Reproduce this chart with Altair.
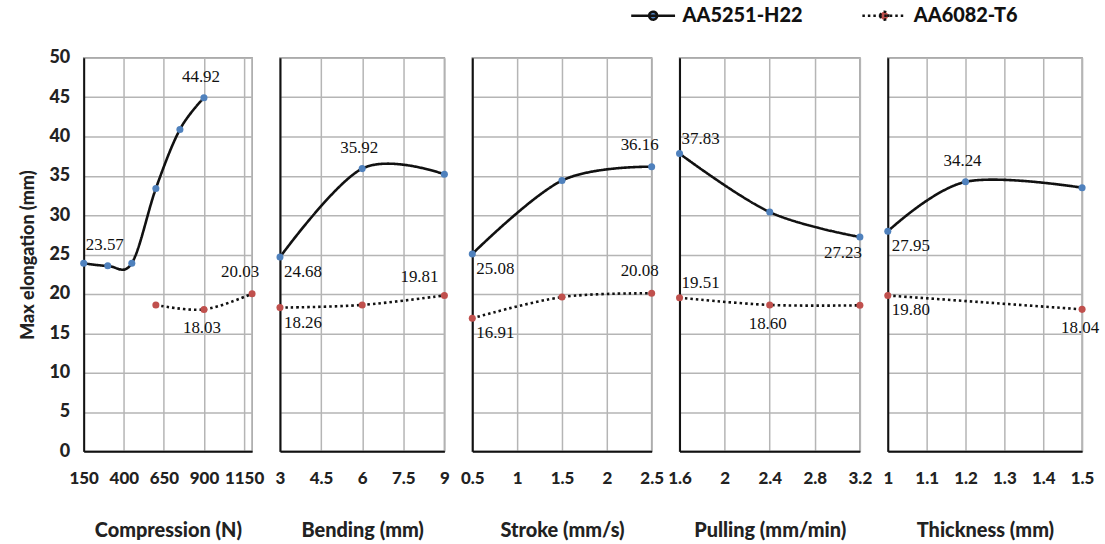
import altair as alt
import pandas as pd

SERIES = ["AA5251-H22", "AA6082-T6"]
POINT_COLORS = ["#4f81bd", "#c0504d"]

# Compression (N)
comp_x_a = [150, 300, 450, 600, 750, 900]
comp_y_a = [23.9, 23.57, 23.9, 33.4, 40.9, 44.92]
comp_x_b = [600, 900, 1200]
comp_y_b = [18.6, 18.03, 20.03]
comp_ticks = [150, 400, 650, 900, 1150]

# Bending (mm)
bend_x = [3, 6, 9]
bend_y_a = [24.68, 35.92, 35.2]
bend_y_b = [18.26, 18.6, 19.81]
bend_ticks = [3, 4.5, 6, 7.5, 9]

# Stroke (mm/s)
stroke_x = [0.5, 1.5, 2.5]
stroke_y_a = [25.08, 34.4, 36.16]
stroke_y_b = [16.91, 19.6, 20.08]
stroke_ticks = [0.5, 1, 1.5, 2, 2.5]

# Pulling (mm/min)
pull_x = [1.6, 2.4, 3.2]
pull_y_a = [37.83, 30.4, 27.23]
pull_y_b = [19.51, 18.60, 18.55]
pull_ticks = [1.6, 2, 2.4, 2.8, 3.2]

# Thickness (mm)
thick_x_a = [1, 1.2, 1.5]
thick_y_a = [27.95, 34.24, 33.5]
thick_x_b = [1, 1.5]
thick_y_b = [19.80, 18.04]
thick_ticks = [1, 1.1, 1.2, 1.3, 1.4, 1.5]

# which points carry a value label, and on which side of the point it sits
comp_labels = [(0, 300, "N"), (0, 900, "N"), (1, 900, "S"), (1, 1200, "NW")]
bend_labels = [(0, 3, "SE"), (0, 6, "N"), (1, 3, "SE"), (1, 9, "NWW")]
stroke_labels = [(0, 0.5, "SE"), (0, 2.5, "NW"), (1, 0.5, "SE"), (1, 2.5, "NW")]
pull_labels = [(0, 1.6, "NE"), (0, 3.2, "SW"), (1, 1.6, "NE"), (1, 2.4, "S")]
thick_labels = [(0, 1, "SE"), (0, 1.2, "N"), (1, 1, "SE"), (1, 1.5, "S")]

PLACEMENT = {
    "N": dict(align="center", dx=-3, dy=-21),
    "S": dict(align="center", dx=-2, dy=19),
    "SE": dict(align="left", dx=4, dy=15),
    "NE": dict(align="left", dx=2, dy=-15),
    "NW": dict(align="center", dx=-12, dy=-22),
    "NWW": dict(align="center", dx=-25, dy=-18),
    "SW": dict(align="center", dx=-17, dy=16),
}

LABEL_FONT = "Lato"
HEAVY = 900
# legend glyph: a horizontal stroke with a marker dot in its middle
SYMBOL = "M-2.2,0H2.2M-0.4,0A0.4,0.4,0,1,1,0.4,0A0.4,0.4,0,1,1,-0.4,0Z"

legend = alt.Legend(
    title=None,
    orient="none",
    legendX=560,
    legendY=-54,
    direction="horizontal",
    symbolType=SYMBOL,
    symbolSize=400,
    symbolStrokeColor="#111111",
    symbolStrokeWidth=2.5,
    labelFont=LABEL_FONT,
    labelFontWeight=HEAVY,
    labelFontSize=20,
    labelColor="#111111",
    columnPadding=54,
    labelOffset=18,
)


def panel(title, xa, ya, xb, yb, labels, ticks, domain, width, first, fmt):
    rows = []
    for x, y in zip(xa, ya):
        rows.append(dict(x=x, y=y, series=SERIES[0], place=""))
    for x, y in zip(xb, yb):
        rows.append(dict(x=x, y=y, series=SERIES[1], place=""))
    df = pd.DataFrame(rows)
    for s, x, p in labels:
        df.loc[(df.series == SERIES[s]) & (df.x == x), "place"] = p

    x_axis = alt.Axis(
        values=ticks,
        format=fmt,
        title=title,
        grid=True,
        gridColor="#b5b5b5",
        gridWidth=1.5,
        domainColor="#111111",
        domainWidth=2,
        tickSize=0,
        labelFont=LABEL_FONT,
        labelFontWeight=HEAVY,
        labelFontSize=17,
        labelColor="#222222",
        labelPadding=19,
        labelOverlap=False,
        labelFlush=False,
        titleFont=LABEL_FONT,
        titleFontWeight=HEAVY,
        titleFontSize=20,
        titleColor="#222222",
        titlePadding=34,
    )
    if first:
        y_axis = alt.Axis(
            values=list(range(0, 51, 5)),
            title="Max elongation (mm)",
            grid=True,
            gridColor="#b5b5b5",
            gridWidth=1.5,
            domainColor="#111111",
            domainWidth=2,
            tickSize=0,
            labelFont=LABEL_FONT,
            labelFontWeight=HEAVY,
            labelFontSize=18,
            labelColor="#222222",
            labelPadding=14,
            titleFont=LABEL_FONT,
            titleFontWeight=HEAVY,
            titleFontSize=18,
            titleColor="#222222",
            titlePadding=11,
        )
    else:
        y_axis = alt.Axis(
            values=list(range(0, 51, 5)),
            title=None,
            labels=False,
            ticks=False,
            grid=True,
            gridColor="#b5b5b5",
            gridWidth=1.5,
            domainColor="#111111",
            domainWidth=2,
        )

    base = alt.Chart(df).encode(
        x=alt.X("x:Q", scale=alt.Scale(domain=domain, nice=False, zero=False), axis=x_axis),
        y=alt.Y("y:Q", scale=alt.Scale(domain=[0, 50], nice=False), axis=y_axis),
    )
    line = base.mark_line(interpolate="cardinal", stroke="#111111", strokeWidth=2.6).encode(
        strokeDash=alt.StrokeDash(
            "series:N",
            scale=alt.Scale(domain=SERIES, range=[[1, 0], [2.5, 3]]),
            legend=legend,
        ),
        detail="series:N",
    )
    points = base.mark_point(shape="circle", filled=True, size=50, opacity=1).encode(
        fill=alt.Fill(
            "series:N",
            scale=alt.Scale(domain=SERIES, range=POINT_COLORS),
            legend=legend,
        )
    )
    layers = [line, points]
    for key, opts in PLACEMENT.items():
        layers.append(
            base.transform_filter(alt.datum.place == key)
            .mark_text(
                font="Liberation Serif",
                fontSize=17,
                color="#111111",
                baseline="middle",
                **opts,
            )
            .encode(text=alt.Text("y:Q", format=".2f"))
        )
    return alt.layer(*layers).properties(width=width, height=395)


p1 = panel("Compression (N)", comp_x_a, comp_y_a, comp_x_b, comp_y_b, comp_labels,
           comp_ticks, [150, 1200], 169, True, "d")
p2 = panel("Bending (mm)", bend_x, bend_y_a, bend_x, bend_y_b, bend_labels,
           bend_ticks, [3, 9], 165, False, ".1~f")
p3 = panel("Stroke (mm/s)", stroke_x, stroke_y_a, stroke_x, stroke_y_b, stroke_labels,
           stroke_ticks, [0.5, 2.5], 180, False, ".1~f")
p4 = panel("Pulling (mm/min)", pull_x, pull_y_a, pull_x, pull_y_b, pull_labels,
           pull_ticks, [1.6, 3.2], 181, False, ".1~f")
p5 = panel("Thickness (mm)", thick_x_a, thick_y_a, thick_x_b, thick_y_b, thick_labels,
           thick_ticks, [1, 1.5], 195, False, ".1~f")

chart = (
    alt.hconcat(p1, p2, p3, p4, p5, spacing=28, bounds="flush")
    .resolve_scale(x="independent")
    .configure_view(stroke="#a0a0a0", strokeWidth=1.5)
    .properties(padding={"left": 19, "top": 3, "right": 5, "bottom": 5}, background="white")
)

chart.save("out.html", embed_options={"renderer": "svg", "actions": False})
